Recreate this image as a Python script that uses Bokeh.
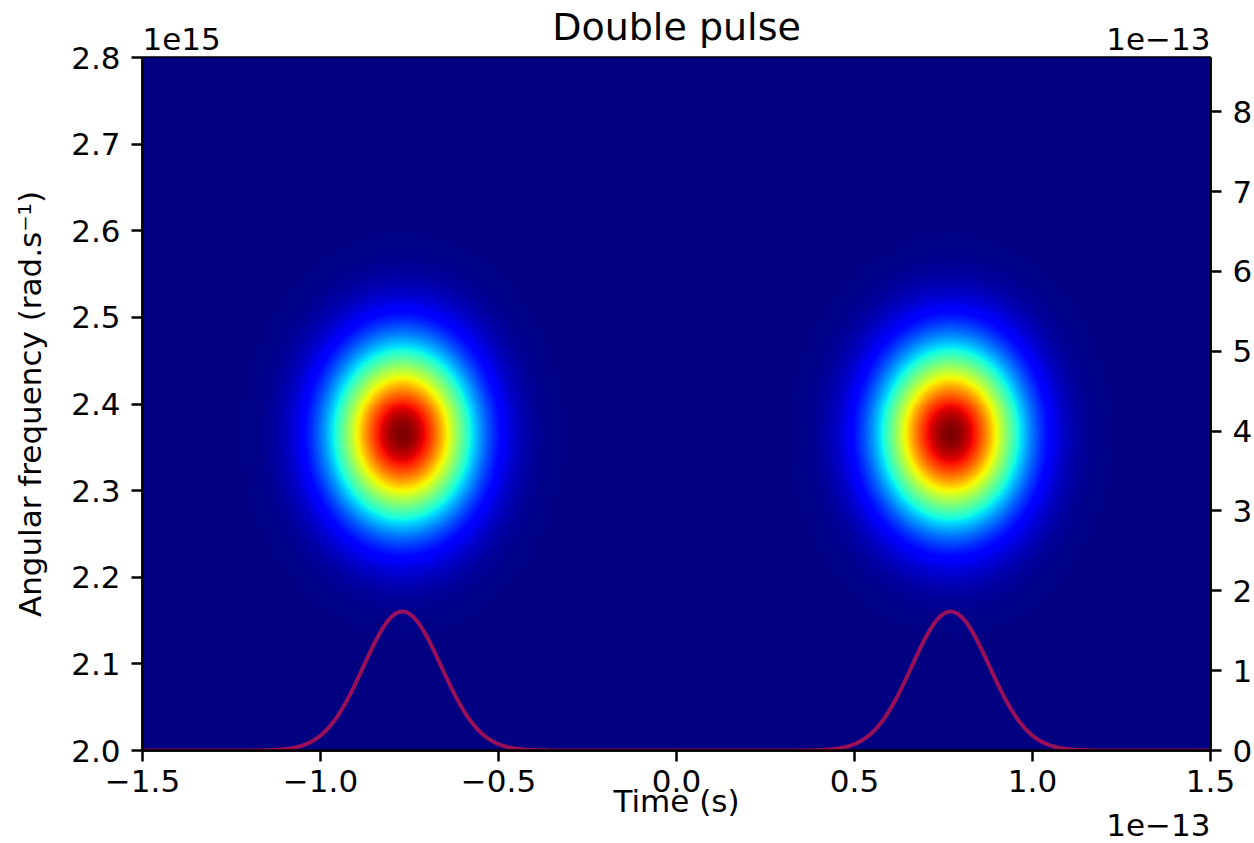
import numpy as np
from bokeh.plotting import figure
from bokeh.models import (Range1d, LinearAxis, FixedTicker, CustomJSTickFormatter,
                          LinearColorMapper, AllLabels)
from bokeh.embed import file_html
from bokeh.resources import INLINE

# ---------------- data ----------------
time_ticks = [-1.5, -1.0, -0.5, 0.0, 0.5, 1.0, 1.5]            # x 1e-13 s
freq_ticks = [2.0, 2.1, 2.2, 2.3, 2.4, 2.5, 2.6, 2.7, 2.8]      # x 1e15 rad/s
pulse_ticks = [0, 1, 2, 3, 4, 5, 6, 7, 8]                       # x 1e-13 (right axis)
time_range = [-1.5, 1.5]
freq_range = [2.0, 2.8]
pulse_range = [0.0, 8.68]

pulse_centers = [-0.77, 0.77]      # pulse centres (1e-13 s)
pulse_peak = 1.74                  # envelope peak (right axis units)
pulse_sigma = 0.109                # envelope rms width (1e-13 s)
carrier_freq = 2.365               # spectrogram centre frequency (1e15 rad/s)
spec_sigma_t = 0.136               # spectrogram rms width in time
spec_sigma_w = 0.070               # spectrogram rms width in frequency

title_text = "Double pulse"
xlabel_text = "Time (s)"
ylabel_text = "Angular frequency (rad.s\u207b\u00b9)"
y_offset_text = "1e15"
x_offset_text = "1e\u221213"
right_offset_text = "1e\u221213"

# ---------------- jet palette ----------------
def jet_palette(n=256):
    x = np.linspace(0, 1, n)
    r = np.interp(x, [0, 0.35, 0.66, 0.89, 1], [0, 0, 1, 1, 0.5])
    g = np.interp(x, [0, 0.125, 0.375, 0.64, 0.91, 1], [0, 0, 1, 1, 0, 0])
    b = np.interp(x, [0, 0.11, 0.34, 0.65, 1], [0.5, 1, 1, 0, 0])
    return ["#%02x%02x%02x" % (int(round(255 * a)), int(round(255 * c)), int(round(255 * d)))
            for a, c, d in zip(r, g, b)]

JET = jet_palette()

# ---------------- spectrogram field ----------------
nx, ny = 534, 347
tx = time_range[0] + (np.arange(nx) + 0.5) * (time_range[1] - time_range[0]) / nx
wy = freq_range[0] + (np.arange(ny) + 0.5) * (freq_range[1] - freq_range[0]) / ny
T, W = np.meshgrid(tx, wy)
Z = np.zeros_like(T)
for c in pulse_centers:
    Z += np.exp(-(T - c) ** 2 / (2 * spec_sigma_t ** 2)) * \
         np.exp(-(W - carrier_freq) ** 2 / (2 * spec_sigma_w ** 2))

# envelope line
tl = np.linspace(time_range[0], time_range[1], 1201)
env = np.zeros_like(tl)
for c in pulse_centers:
    env += pulse_peak * np.exp(-(tl - c) ** 2 / (2 * pulse_sigma ** 2))

# ---------------- figure ----------------
FONT = "DejaVu Sans"
BASE_PX = "31px"
TITLE_PX = "38px"
FRAME_W, FRAME_H = 1068, 693

p = figure(frame_width=FRAME_W, frame_height=FRAME_H,
           x_range=Range1d(*time_range), y_range=Range1d(*freq_range),
           output_backend="svg", toolbar_location=None,
           min_border_left=142, min_border_right=44,
           min_border_top=57, min_border_bottom=93)
p.extra_y_ranges = {"pulse": Range1d(*pulse_range)}
p.grid.visible = False
p.background_fill_color = "#000080"
p.border_fill_color = "white"
p.outline_line_color = "black"
p.outline_line_width = 2.5

mapper = LinearColorMapper(palette=JET, low=0.0, high=float(Z.max()))
p.image(image=[Z], x=time_range[0], y=freq_range[0],
        dw=time_range[1] - time_range[0], dh=freq_range[1] - freq_range[0],
        color_mapper=mapper)

p.line(tl, env, y_range_name="pulse", line_color="#ff1a40",
       line_alpha=0.6, line_width=4)


def style_axis(ax, standoff, tick_out=11, size=BASE_PX):
    ax.major_tick_out = tick_out
    ax.major_tick_in = 0
    ax.minor_tick_out = 0
    ax.minor_tick_in = 0
    ax.major_tick_line_width = 2.5
    ax.major_tick_line_color = "black" if tick_out else None
    ax.axis_line_color = "black" if tick_out else None
    ax.axis_line_width = 2.5
    ax.major_label_text_font = FONT
    ax.major_label_text_font_size = size
    ax.major_label_text_color = "black"
    ax.major_label_standoff = standoff
    ax.major_label_policy = AllLabels()
    ax.axis_label_text_font = FONT
    ax.axis_label_text_font_size = BASE_PX
    ax.axis_label_text_font_style = "normal"
    ax.axis_label_text_color = "black"


# bottom axis
xa = p.xaxis[0]
xa.ticker = FixedTicker(ticks=time_ticks)
xa.formatter = CustomJSTickFormatter(
    code="return (tick < 0 ? '\u2212' : '') + Math.abs(tick).toFixed(1);")
style_axis(xa, 8)
xa.axis_label = xlabel_text
xa.axis_label_standoff = -12

# left axis
ya = p.yaxis[0]
ya.ticker = FixedTicker(ticks=freq_ticks)
ya.formatter = CustomJSTickFormatter(code="return tick.toFixed(1);")
style_axis(ya, 11)
ya.axis_label = ylabel_text
ya.axis_label_standoff = 20

# right axis (pulse envelope)
right_axis = LinearAxis(y_range_name="pulse")
right_axis.ticker = FixedTicker(ticks=pulse_ticks)
right_axis.formatter = CustomJSTickFormatter(code="return tick.toFixed(0);")
style_axis(right_axis, 11)
p.add_layout(right_axis, "right")

# text-only axes for the title and the offset texts (positions in data units)
px_per_unit = FRAME_W / (time_range[1] - time_range[0])
w_1e15 = 2.523 * 31 / px_per_unit       # approximate text widths
w_1em13 = 3.361 * 31 / px_per_unit
pos_left = time_range[0] + w_1e15 / 2
pos_right = time_range[1] - w_1em13 / 2

title_axis = LinearAxis(ticker=FixedTicker(ticks=[0.0]),
                        major_label_overrides={0.0: title_text})
style_axis(title_axis, 9, tick_out=0, size=TITLE_PX)
p.add_layout(title_axis, "above")

top_offsets = LinearAxis(ticker=FixedTicker(ticks=[pos_left, pos_right]),
                         major_label_overrides={pos_left: y_offset_text,
                                                pos_right: right_offset_text})
style_axis(top_offsets, -48, tick_out=0)
p.add_layout(top_offsets, "above")

bottom_offset = LinearAxis(ticker=FixedTicker(ticks=[pos_right]),
                           major_label_overrides={pos_right: x_offset_text})
style_axis(bottom_offset, -8, tick_out=0)
p.add_layout(bottom_offset, "below")

open("out.html", "w").write(file_html(p, INLINE))
